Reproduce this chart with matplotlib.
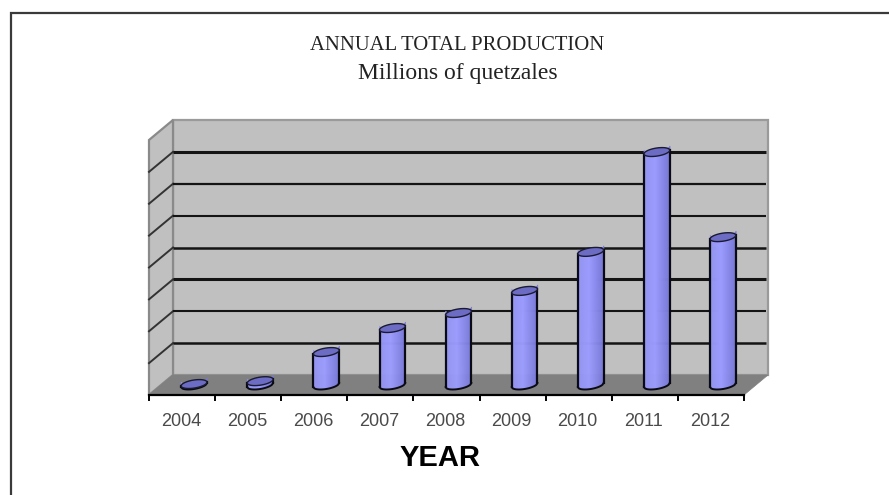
import numpy as np
import matplotlib
matplotlib.use("Agg")
import matplotlib.pyplot as plt
from matplotlib.patches import Polygon
from matplotlib.lines import Line2D

years = ["2004", "2005", "2006", "2007", "2008", "2009", "2010", "2011", "2012"]
values = [0.03, 0.12, 1.03, 1.78, 2.25, 2.94, 4.16, 7.28, 4.62]
title_lines = ["ANNUAL TOTAL PRODUCTION", "Millions of quetzales"]
xlabel = "YEAR"

W, H, DPI = 889, 495, 100
fig = plt.figure(figsize=(W / DPI, H / DPI), dpi=DPI, facecolor="white")

# page frame
fig.add_artist(Line2D([10.5 / W, 10.5 / W, 1], [0, 1 - 12.5 / H, 1 - 12.5 / H], color="#3a3a3a", lw=1.6,
                      transform=fig.transFigure, solid_joinstyle="miter"))

# front plane of the 3D box, in pixels
L, R, B, T = 149, 744, 395, 140
ax = fig.add_axes([L / W, 1 - B / H, (R - L) / W, (B - T) / H])
ax.set_xlim(0, len(years))
ax.set_ylim(0, 8)
ax.axis("off")
DX, DY = 24, 20  # depth in pixels (display y is up)


def box(x, y, depth=1.0):
    p = ax.transData.transform((x, y))
    return p[0] + DX * depth, p[1] + DY * depth


def poly(pts, **kw):
    ax.add_patch(Polygon(pts, closed=True, transform=None, clip_on=False, **kw))


n = len(years)
# back wall, side wall, floor
poly([box(0, 0, 1), box(n, 0, 1), box(n, 8, 1), box(0, 8, 1)], fc="#c0c0c0", ec="#9a9a9a", lw=1.6, zorder=1)
poly([box(0, 0, 0), box(0, 0, 1), box(0, 8, 1), box(0, 8, 0)], fc="#c0c0c0", ec="#8a8a8a", lw=1.6, zorder=1)
poly([box(0, 0, 0), box(n, 0, 0), box(n, 0, 1), box(0, 0, 1)], fc="#808080", ec="#808080", lw=0.5, zorder=2)

# gridlines
widths = [1.8, 1.5, 2.2, 1.8, 1.5, 1.6, 2.2]
for k, lw in zip(range(1, 8), widths):
    a, b, c = box(0, k, 0), box(0, k, 1), box(n, k, 1)
    ax.add_line(Line2D([a[0], b[0]], [a[1], b[1]], transform=None, color="#333333", lw=1.4, clip_on=False, zorder=2))
    ax.add_line(Line2D([b[0], c[0] - 2], [b[1], c[1]], transform=None, color="#141414", lw=lw, clip_on=False,
                       solid_capstyle="butt", zorder=2))

# axis line and ticks
ax.add_line(Line2D([0, n], [0, 0], color="black", lw=1.6, clip_on=False, zorder=3))
for i in range(n + 1):
    p = ax.transData.transform((i, 0))
    ax.add_line(Line2D([p[0], p[0]], [p[1], p[1] - 5], transform=None, color="black", lw=1.4, clip_on=False, zorder=3))

# cylinders
RX, RY, TILT = 13.0, 4.0, np.deg2rad(9)
t = np.linspace(0, 2 * np.pi, 80)
ex = RX * np.cos(t) * np.cos(TILT) - RY * np.sin(t) * np.sin(TILT)
ey = RX * np.cos(t) * np.sin(TILT) + RY * np.sin(t) * np.cos(TILT)
ell = np.column_stack([ex, ey])
xs = np.linspace(-RX * np.cos(TILT), RX * np.cos(TILT), 27)
c_light = np.array([0x9c, 0x9c, 0xff]) / 255
c_dark = np.array([0x78, 0x78, 0xd8]) / 255
slope = np.tan(TILT)


def cyl_color(u):
    # u in 0..1 across the bar
    if u < 0.45:
        return c_light * (0.94 + 0.06 * u / 0.45)
    return c_light + (c_dark - c_light) * ((u - 0.45) / 0.55)


def arc(x):
    return RY * np.sqrt(max(0, 1 - (x / xs[-1]) ** 2))


for i, v in enumerate(values):
    bx, by = ax.transData.transform((i + 0.5, 0))
    bx += DX / 2
    by += DY / 2
    h = v * 32.0
    for j in range(len(xs) - 1):
        x0, x1 = xs[j], xs[j + 1]
        y0b, y1b = x0 * slope - arc(x0), x1 * slope - arc(x1)
        col = cyl_color((j + 0.5) / (len(xs) - 1))
        poly([(bx + x0, by + y0b), (bx + x1, by + y1b), (bx + x1 + 0.4, by + y1b + h + 4), (bx + x0, by + y0b + h + 4)],
             fc=col, ec=col, lw=0.4, zorder=4)
    for xe in (xs[0], xs[-1]):
        ye = xe * slope
        ax.add_line(Line2D([bx + xe, bx + xe], [by + ye, by + ye + h], transform=None, color="#0a0a14",
                           lw=1.6, clip_on=False, zorder=5))
    # lower arc of the base
    low = np.array([(bx + x, by + x * slope - arc(x)) for x in xs])
    ax.add_line(Line2D(low[:, 0], low[:, 1], transform=None, color="#0a0a14", lw=1.4, clip_on=False, zorder=5))
    # top cap
    poly(ell + [bx, by + h], fc="#6c6cc4", ec="#1a1a30", lw=1.0, zorder=6)

# labels
for i, y in enumerate(years):
    p = ax.transData.transform((i + 0.5, 0))
    fig.text((p[0] - 1) / W, 1 - 421 / H, y, ha="center", va="center", family="Liberation Sans",
             fontsize=13, color="#4a4a4a")
fig.text(440.5 / W, 1 - 458 / H, xlabel, ha="center", va="center", family="Liberation Sans",
         fontweight="bold", fontsize=21, color="black")
fig.text(457 / W, 1 - 45 / H, title_lines[0], ha="center", va="center", family="Liberation Serif",
         fontsize=14.9, color="#222222")
fig.text(458 / W, 1 - 74 / H, title_lines[1], ha="center", va="center", family="Liberation Serif",
         fontsize=17, color="#222222")

fig.savefig("out.png", dpi=DPI)
